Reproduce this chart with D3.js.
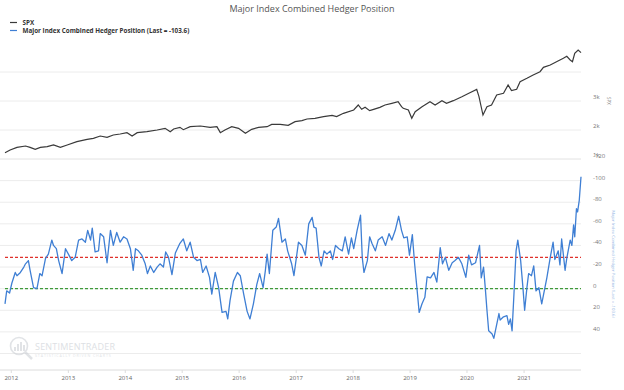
<!DOCTYPE html>
<html>
<head>
<meta charset="utf-8">
<script src="https://cdn.jsdelivr.net/npm/d3@7"></script>
<style>
  body { margin: 0; background: #fff; }
  svg { font-family: 'Open Sans', sans-serif; }
</style>
</head>
<body>
<div id="chart"></div>
<script>
const width = 624;
const height = 390;

// Hedger position (decimal years, values)
const hedgerDates = [
  2011.89,2011.92,2011.97,2012.01,2012.07,2012.10,2012.16,2012.22,2012.25,2012.30,
  2012.33,2012.39,2012.45,2012.50,2012.54,2012.60,2012.65,2012.71,2012.74,2012.79,
  2012.83,2012.89,2012.95,2013.01,2013.06,2013.12,2013.18,2013.24,2013.30,2013.34,
  2013.39,2013.42,2013.47,2013.53,2013.56,2013.62,2013.68,2013.74,2013.79,2013.85,
  2013.91,2013.97,2014.03,2014.09,2014.14,2014.18,2014.23,2014.29,2014.35,2014.39,
  2014.44,2014.50,2014.56,2014.61,2014.67,2014.71,2014.76,2014.82,2014.88,2014.96,
  2015.02,2015.08,2015.14,2015.20,2015.26,2015.32,2015.36,2015.42,2015.48,2015.52,
  2015.58,2015.64,2015.70,2015.77,2015.80,2015.84,2015.90,2015.97,2016.02,2016.08,
  2016.14,2016.19,2016.25,2016.31,2016.36,2016.42,2016.46,2016.49,2016.53,2016.59,
  2016.65,2016.69,2016.75,2016.81,2016.85,2016.92,2016.96,2017.04,2017.10,2017.16,
  2017.22,2017.28,2017.31,2017.35,2017.40,2017.44,2017.49,2017.54,2017.60,2017.64,
  2017.69,2017.75,2017.81,2017.86,2017.92,2017.97,2018.01,2018.07,2018.13,2018.16,
  2018.19,2018.25,2018.29,2018.33,2018.39,2018.44,2018.51,2018.57,2018.63,2018.68,
  2018.74,2018.80,2018.85,2018.89,2018.95,2018.99,2019.04,2019.08,2019.12,2019.16,
  2019.21,2019.26,2019.30,2019.36,2019.42,2019.47,2019.53,2019.57,2019.62,2019.68,
  2019.74,2019.79,2019.85,2019.91,2019.98,2020.03,2020.08,2020.15,2020.22,2020.25,
  2020.29,2020.32,2020.35,2020.38,2020.44,2020.47,2020.56,2020.58,2020.64,2020.70,
  2020.73,2020.76,2020.79,2020.82,2020.86,2020.89,2020.94,2020.98,2021.01,2021.05,
  2021.08,2021.13,2021.17,2021.21,2021.26,2021.31,2021.40,2021.46,2021.51,2021.54,
  2021.60,2021.63,2021.66,2021.72,2021.75,2021.81,2021.84,2021.87,2021.89,2021.92,
  2021.94,2021.97,2022.00
];
const hedgerValues = [
  14,2,4,-5,-15,-12,-15,-20,-23,-26,
  -17,-1,0,-14,-12,-28,-32,-45,-40,-37,
  -26,-14,-37,-31,-26,-29,-45,-46,-43,-54,
  -45,-56,-34,-35,-51,-48,-24,-54,-40,-52,
  -43,-48,-46,-37,-17,-37,-35,-31,-23,-14,
  -21,-15,-20,-23,-20,-34,-29,-13,-33,-42,
  -46,-35,-43,-29,-26,-27,-15,-21,-10.5,5,
  -15,-1,22,21,28,11,-7,-15,-12,5,
  21,28,14,-4,-14,-1,-17,-32,-14,-54,
  -57,-65,-43,-46,-35,-23,-12,-43,-40,-31,
  -60,-66,-57,-56,-29,-21,-35,-32,-35,-27,
  -40,-37,-35,-48,-32,-47,-37,-54,-68,-29,
  -15,-26,-48,-42,-35,-45,-48,-40,-51,-45,
  -54,-67,-54,-47,-48,-31,-50,-23,-1,22,
  14,8,-11,-10,-15,-6,-38,-23,-29,-17,
  -24,-26,-29,-23,-10.5,-31,-22,-24,-40,-10,
  -20,-1,20,39,42,46,23,29,26,25,
  33,28,39,8,-35,-45,-26,-1,20,-1,
  -14,-12,-21,2,-1,14,-10,-29,-43,-27,
  -35,-22,-46,-17,-28,-45,-40,-59,-48,-74,
  -71,-82,-103.6
];

// SPX
const spxDates = [
  2011.89,2011.98,2012.10,2012.25,2012.33,2012.42,2012.51,2012.63,2012.74,2012.86,
  2012.98,2013.15,2013.33,2013.44,2013.56,2013.68,2013.79,2013.91,2014.03,2014.12,
  2014.21,2014.38,2014.56,2014.70,2014.79,2014.85,2014.96,2015.02,2015.14,2015.32,
  2015.49,2015.61,2015.67,2015.75,2015.87,2015.99,2016.11,2016.22,2016.34,2016.49,
  2016.57,2016.72,2016.86,2016.98,2017.10,2017.19,2017.33,2017.48,2017.63,2017.71,
  2017.83,2018.01,2018.09,2018.15,2018.21,2018.29,2018.36,2018.47,2018.56,2018.68,
  2018.79,2018.85,2018.88,2018.97,2019.03,2019.09,2019.21,2019.35,2019.44,2019.56,
  2019.64,2019.76,2019.91,2020.05,2020.17,2020.21,2020.28,2020.35,2020.43,2020.52,
  2020.64,2020.72,2020.78,2020.87,2020.93,2021.05,2021.16,2021.28,2021.34,2021.46,
  2021.57,2021.69,2021.75,2021.81,2021.85,2021.89,2021.95,2022.00
];
const spxValues = [
  1217,1310,1402,1448,1402,1333,1402,1425,1483,1402,
  1483,1598,1678,1713,1793,1747,1828,1862,1908,1793,
  1908,1943,2000,2057,1943,2034,2092,2011,2115,2138,
  2092,2115,1908,2000,2115,2057,1885,2023,2092,2115,
  2195,2195,2161,2287,2322,2379,2402,2460,2506,2460,
  2575,2690,2862,2713,2782,2667,2713,2782,2862,2920,
  2977,2804,2747,2690,2402,2632,2804,2977,2862,3011,
  2920,3011,3149,3287,3402,3149,2517,2804,2862,3207,
  3264,3552,3356,3402,3667,3782,3897,4011,4161,4241,
  4356,4472,4540,4414,4356,4644,4759,4666
];

const years = [2012, 2013, 2014, 2015, 2016, 2017, 2018, 2019, 2020, 2021];
const spxTicks = [1000, 2000, 3000, 4000];
const spxTickLabels = ['1k', '2k', '3k', ''];
const hedgerTicks = [-120, -100, -80, -60, -40, -20, 0, 20, 40, 60];
const hedgerTickLabels = ['-120', '-100', '-80', '-60', '-40', '-20', '0', '20', '40', ''];
const redLevel = -29;
const greenLevel = 0;

const title = 'Major Index Combined Hedger Position';
const legendItems = [
  { name: 'SPX', color: '#3a3a3a' },
  { name: 'Major Index Combined Hedger Position (Last = -103.6)', color: '#3f7fd4' }
];

// decimal year -> Date
function toDate(y) {
  const yr = Math.floor(y);
  const start = new Date(yr, 0, 1), end = new Date(yr + 1, 0, 1);
  return new Date(+start + (y - yr) * (end - start));
}

const hedger = hedgerDates.map((d, i) => ({ date: toDate(d), value: hedgerValues[i] }));
const spx = spxDates.map((d, i) => ({ date: toDate(d), value: spxValues[i] }));

const plotLeft = 0;
const plotRight = 581;

// Scales
const x = d3.scaleTime()
  .domain([toDate(2011.89), toDate(2022.0)])
  .range([5, 581]);

const ySpx = d3.scaleLinear()
  .domain([1000, 4000])
  .range([159, 72]);

// inverted: negative on top
const yHedger = d3.scaleLinear()
  .domain([-120, 60])
  .range([159, 353.5]);

const svg = d3.select('#chart')
  .append('svg')
  .attr('width', width)
  .attr('height', height);

// Gridlines
svg.append('g')
  .selectAll('line')
  .data(spxTicks)
  .join('line')
  .attr('x1', plotLeft).attr('x2', plotRight)
  .attr('y1', d => ySpx(d)).attr('y2', d => ySpx(d))
  .attr('stroke', '#ececec').attr('stroke-width', 1);

svg.append('g')
  .selectAll('line')
  .data(hedgerTicks)
  .join('line')
  .attr('x1', plotLeft).attr('x2', plotRight)
  .attr('y1', d => yHedger(d)).attr('y2', d => yHedger(d))
  .attr('stroke', '#ececec').attr('stroke-width', 1);

// Watermark
const wm = svg.append('g').attr('opacity', 0.55);
wm.append('circle').attr('cx', 19).attr('cy', 346).attr('r', 8.5)
  .attr('fill', 'none').attr('stroke', '#c9cdd3').attr('stroke-width', 1.6);
wm.append('line').attr('x1', 25).attr('y1', 352).attr('x2', 32).attr('y2', 359)
  .attr('stroke', '#c9cdd3').attr('stroke-width', 2.5);
[[14, 4], [17, 7], [20, 9], [23, 6]].forEach(([bx, bh]) => {
  wm.append('rect').attr('x', bx).attr('y', 351 - bh).attr('width', 2).attr('height', bh).attr('fill', '#c9cdd3');
});
wm.append('text').attr('x', 35).attr('y', 350)
  .attr('font-size', 9).attr('fill', '#c2c7ce').attr('letter-spacing', 0.2)
  .text('SENTIMENTRADER');
wm.append('text').attr('x', 35).attr('y', 357)
  .attr('font-size', 3.6).attr('fill', '#c9cdd3').attr('letter-spacing', 0.9)
  .text('STATISTICALLY DRIVEN CHARTS');

// X axis
const xAxis = svg.append('g').attr('transform', 'translate(0,370)');
xAxis.append('line').attr('x1', plotLeft).attr('x2', plotRight)
  .attr('stroke', '#dcdcdc');
xAxis.selectAll('.tick')
  .data(years)
  .join('line')
  .attr('x1', d => x(toDate(d))).attr('x2', d => x(toDate(d)))
  .attr('y1', 0).attr('y2', 3)
  .attr('stroke', '#dcdcdc');
xAxis.selectAll('text')
  .data(years)
  .join('text')
  .attr('x', d => x(toDate(d)))
  .attr('y', 10)
  .attr('text-anchor', 'middle')
  .attr('font-size', 6)
  .attr('fill', '#666')
  .text(d => d);

// Threshold lines
svg.append('line')
  .attr('x1', x(toDate(2011.89))).attr('x2', plotRight)
  .attr('y1', yHedger(redLevel)).attr('y2', yHedger(redLevel))
  .attr('stroke', '#e0302b').attr('stroke-width', 1.3).attr('stroke-dasharray', '3,2');
svg.append('line')
  .attr('x1', x(toDate(2011.89))).attr('x2', plotRight)
  .attr('y1', yHedger(greenLevel)).attr('y2', yHedger(greenLevel))
  .attr('stroke', '#3e9a3a').attr('stroke-width', 1.3).attr('stroke-dasharray', '3,2');

// Lines
svg.append('path')
  .datum(spx)
  .attr('fill', 'none')
  .attr('stroke', legendItems[0].color)
  .attr('stroke-width', 1.2)
  .attr('d', d3.line().x(d => x(d.date)).y(d => ySpx(d.value)));

svg.append('path')
  .datum(hedger)
  .attr('fill', 'none')
  .attr('stroke', legendItems[1].color)
  .attr('stroke-width', 1.3)
  .attr('stroke-linejoin', 'round')
  .attr('d', d3.line().x(d => x(d.date)).y(d => yHedger(d.value)));

// Right axes labels
svg.append('g')
  .selectAll('text')
  .data(spxTicks)
  .join('text')
  .attr('x', 593)
  .attr('y', d => ySpx(d) - 2)
  .attr('font-size', 6)
  .attr('fill', '#777')
  .text((d, i) => spxTickLabels[i]);

svg.append('g')
  .selectAll('text')
  .data(hedgerTicks)
  .join('text')
  .attr('x', 593)
  .attr('y', d => yHedger(d) - 1)
  .attr('font-size', 6)
  .attr('fill', '#777')
  .text((d, i) => hedgerTickLabels[i]);

// Axis titles (rotated)
svg.append('text')
  .attr('transform', 'translate(607,101) rotate(90)')
  .attr('text-anchor', 'middle')
  .attr('font-size', 4.5)
  .attr('fill', '#888')
  .text('SPX');

svg.append('text')
  .attr('transform', 'translate(612,264) rotate(90)')
  .attr('text-anchor', 'middle')
  .attr('font-size', 4.3)
  .attr('fill', '#8fb3e3')
  .text(legendItems[1].name);

// Title
svg.append('text')
  .attr('x', 312)
  .attr('y', 12)
  .attr('text-anchor', 'middle')
  .attr('font-size', 9)
  .attr('fill', '#555')
  .text(title);

// Legend
const legend = svg.append('g');
legendItems.forEach((item, i) => {
  const ly = 22.5 + i * 8;
  legend.append('line')
    .attr('x1', 10).attr('x2', 17)
    .attr('y1', ly).attr('y2', ly)
    .attr('stroke', item.color).attr('stroke-width', 1.2);
  legend.append('text')
    .attr('x', 22.5).attr('y', ly + 2.2)
    .attr('font-size', 6.3)
    .attr('font-weight', 'bold')
    .attr('fill', '#333')
    .text(item.name);
});
</script>
</body>
</html>
